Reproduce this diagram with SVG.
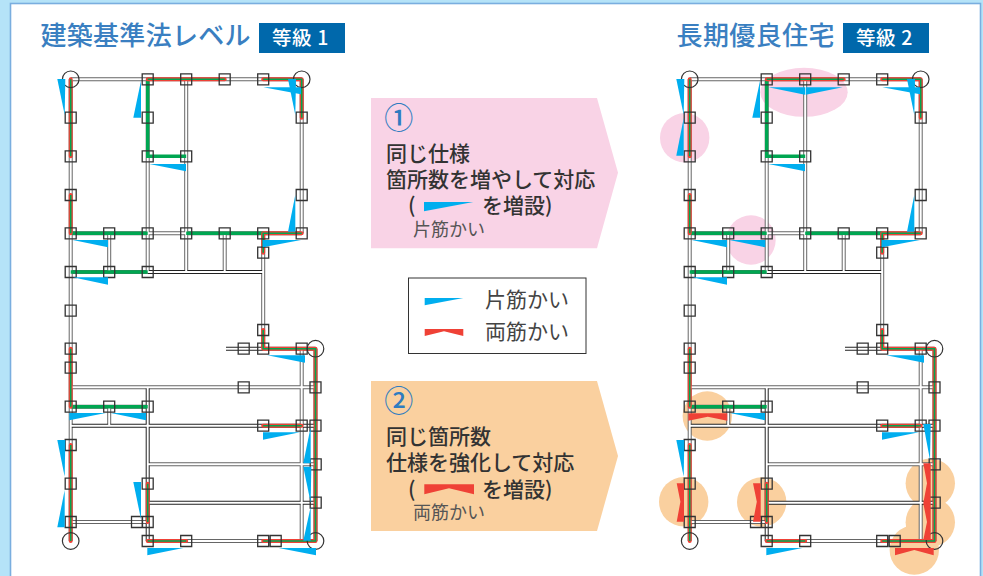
<svg xmlns="http://www.w3.org/2000/svg" width="983" height="576" viewBox="0 0 983 576">
<style>
text{font-family:"Noto Sans CJK JP","Noto Sans",sans-serif}
.head{font-size:26px;font-weight:500;fill:#3a7fc1}
.badge{fill:#0068ab}
.badget{font-size:19.5px;font-weight:500;fill:#fff;letter-spacing:.6px}
.body{font-size:21px;font-weight:500;fill:#333}
.small{font-size:18px;font-weight:400;fill:#555}
.leg{font-size:21px;font-weight:400;fill:#444}
.num{font-size:29px;font-weight:500;fill:#2f7cc0}
.b{fill:#00aeef}
.r{fill:#ef4136}
.pk{fill:#f9d3e6}
.or{fill:#fad09f}
.w1,.w2,.w3,.g,.rl,.rc,.sq,.col{fill:none}
.w1{stroke:#666;stroke-width:4}
.w2{stroke:#222;stroke-width:4}
.w3{stroke:#fff;stroke-width:2}
.g{stroke:#00a651;stroke-width:3.4}
.rl{stroke:#ef4136;stroke-width:4;stroke-linecap:round;stroke-linejoin:round}
.rc{stroke:#00a651;stroke-width:1.6}
.sq{stroke:#333;stroke-width:1.3}
.col{stroke:#333;stroke-width:1.2}
</style>
<defs>
<path id="wm" d="M70.7 79.3H301.7M70.7 233.3H301.7M70.7 272H147.7M263.2 348.7H315.5M70.7 387.3H315.5M148 464.3H315.5M147.7 541H315.5M70.7 522H147.7M70.7 406.7H147.7M70.7 79.3V541M147.7 79.3V272M186.2 79.3V272M109.2 233.3V272M109.2 406.7V425.7M224.7 233.3V272M263.2 233.3V348.7M301.7 79.3V233.3M301.7 348.7V541M315.5 348.7V541"/>
<path id="wd" d="M147.7 272H263.2M226 348.7H263.2M71 425.7H315.5M148 502.7H315.5M147.7 387.3V541"/>
<path id="gp" d="M147.7 79.3V156.3H186.2M70.7 233.3H147.7M186.2 233.3H263.2M70.7 272H147.7M70.7 406.7H147.7"/>
<path id="rp" d="M70.7 79.3V156.3M70.7 195V233.3M147.7 79.3H224.7M263.2 79.3H301.7V117.7M263.2 252.7V233.3H301.7M263.2 330V348.7H315.5V541H263.2M186.2 541H147.7M147.7 483.7V522M263.2 425.7H301.7M70.7 348.7V406.7M70.7 445V541"/>
<g id="sqs"><path class="sq" d="M142.2 73.8h11v11h-11zM180.7 73.8h11v11h-11zM219.2 73.8h11v11h-11zM257.7 73.8h11v11h-11zM65.2 112.2h11v11h-11zM142.2 112.2h11v11h-11zM296.2 112.2h11v11h-11zM65.2 150.8h11v11h-11zM142.2 150.8h11v11h-11zM180.7 150.8h11v11h-11zM65.2 189.5h11v11h-11zM296.2 189.5h11v11h-11zM65.2 227.8h11v11h-11zM103.7 227.8h11v11h-11zM142.2 227.8h11v11h-11zM180.7 227.8h11v11h-11zM219.2 227.8h11v11h-11zM257.7 227.8h11v11h-11zM296.2 227.8h11v11h-11zM257.7 247.2h11v11h-11zM65.2 266.5h11v11h-11zM103.7 266.5h11v11h-11zM142.2 266.5h11v11h-11zM65.2 305.2h11v11h-11zM257.7 324.5h11v11h-11zM65.2 343.2h11v11h-11zM238.2 343.2h11v11h-11zM257.7 343.2h11v11h-11zM296.2 343.2h11v11h-11zM65.2 362.2h11v11h-11zM238.2 381.8h11v11h-11zM310 381.8h11v11h-11zM65.2 401.2h11v11h-11zM103.7 401.2h11v11h-11zM142.2 401.2h11v11h-11zM257.7 420.2h11v11h-11zM296.2 420.2h11v11h-11zM310 420.2h11v11h-11zM65.2 439.5h11v11h-11zM310.2 458.8h11v11h-11zM65.2 478.2h11v11h-11zM142.2 478.2h11v11h-11zM310.2 497.2h11v11h-11zM65.2 516.5h11v11h-11zM131.5 516.5h11v11h-11zM142.2 516.5h11v11h-11zM142.2 535.5h11v11h-11zM180.7 535.5h11v11h-11zM257.7 535.5h11v11h-11zM270.2 535.5h11v11h-11z"/></g>
<g id="plan">
<use href="#wm" class="w1"/><use href="#wd" class="w2"/><use href="#wm" class="w3"/><use href="#wd" class="w3"/>
<use href="#gp" class="g"/><use href="#rp" class="rl"/><use href="#rp" class="rc"/>
<use href="#sqs"/>
<circle class="col" cx="70.7" cy="79.3" r="8.3"/><circle class="col" cx="301.7" cy="79.3" r="8.3"/><circle class="col" cx="315.5" cy="348.7" r="8.3"/><circle class="col" cx="70.7" cy="541" r="8.3"/><circle class="col" cx="315.5" cy="541" r="8.3"/>
</g>
<g id="common">
<polygon class="b" points="57.3,79 65.3,79 64.7,115"/>
<polygon class="b" points="141,80.7 133.3,117.7 141,117.7"/>
<polygon class="b" points="149.3,164 186,164 186,171.3"/>
<polygon class="b" points="263.3,87.3 301,87.3 301,94.3"/>
<polygon class="b" points="288,79 296,79 295.3,115"/>
<polygon class="b" points="295.3,195 288,231.7 295.3,231.7"/>
<polygon class="b" points="72.7,240 108,240 108,247.3"/>
<polygon class="b" points="262.7,240 301,240 262.7,247.3"/>
<polygon class="b" points="72.7,277.3 108,277.3 108,284.7"/>
<polygon class="b" points="267.3,355.3 305,355.3 305,362.7"/>
<polygon class="b" points="110.7,413 146,413 146,420.3"/>
<polygon class="b" points="263,432.3 300,432.3 263,439.7"/>
<polygon class="b" points="57.3,440 65.3,440 64.7,476.7"/>
<polygon class="b" points="147.3,548 183.3,548 147.3,555.3"/>
</g>
</defs>
<rect width="983" height="576" fill="#b5e3f8"/>
<rect x="10.5" y="3.5" width="970" height="590" fill="#fff" stroke="#7aaedf" stroke-width="1.6"/>

<g id="title-left">
<text class="head" x="40.5" y="45" textLength="210">建築基準法レベル</text>
<rect class="badge" x="259" y="23" width="86" height="30"/>
<text class="badget" x="272" y="45">等級 1</text>
</g>
<g id="title-right">
<text class="head" x="676.5" y="45" textLength="158">長期優良住宅</text>
<rect class="badge" x="843" y="23" width="86" height="30"/>
<text class="badget" x="856" y="45">等級 2</text>
</g>

<g id="plan-left">
<use href="#plan"/>
<use href="#common"/>
<polygon class="b" points="64.7,490 64.7,527.3 57.3,527.3"/>
<polygon class="b" points="69.3,413 105.7,413 69.3,420.3"/>
<polygon class="b" points="310.7,426.7 310.7,463.3 303.3,463.3"/>
<polygon class="b" points="303.3,466.7 311.3,466.7 310.7,503"/>
<polygon class="b" points="310.7,506.7 310.7,540.7 303.3,540.7"/>
<polygon class="b" points="133.3,482 141,482 141,519.3"/>
<polygon class="b" points="278.7,548 316,548 316,555.3"/>
</g>

<g id="plan-right" transform="translate(619 0)">
<circle class="pk" cx="65.7" cy="137.7" r="24.7"/>
<ellipse class="pk" cx="185" cy="92.3" rx="43.7" ry="24.5"/>
<circle class="pk" cx="132" cy="240" r="24.7"/>
<circle class="or" cx="88.3" cy="416" r="24.7"/>
<circle class="or" cx="64.7" cy="501.7" r="24.7"/>
<circle class="or" cx="142.7" cy="502" r="24.7"/>
<circle class="or" cx="311.3" cy="483.3" r="24.7"/>
<circle class="or" cx="311.3" cy="522.3" r="24.7"/>
<circle class="or" cx="295.3" cy="550" r="24.7"/>
<use href="#plan"/>
<use href="#common"/>
<polygon class="b" points="64.7,118 64.7,155.7 57.3,155.7"/>
<polygon class="b" points="149.3,87.3 186,87.3 186,94.7"/>
<polygon class="b" points="186.7,94.7 186.7,87.3 223.7,87.3"/>
<polygon class="b" points="110.3,240 146.3,240 146.3,247.3"/>
<polygon class="b" points="304.3,424 311.7,424 311,460"/>
<polygon class="r" points="69.3,413.3 108.3,413.3 108.3,420.7 88.8,416.7 69.3,420.7"/>
<polygon class="r" points="57.7,483.3 65,483.3 65,521.7 57.7,521.7 61.4,501.7"/>
<polygon class="r" points="134,483.3 141.7,483.3 141.7,521.7 134,521.7 137.8,501.7"/>
<polygon class="r" points="304.3,463.3 311.7,463.3 311.7,540 304.3,540 308,522 304.3,503.3 308,483.3"/>
<polygon class="r" points="276,548 314.7,548 314.7,555.3 295.3,550 276,555.3"/>
</g>

<g id="callout-1">
<polygon class="pk" points="371,98 597,98 618,172.7 597,248.3 371,248.3"/>
<text class="num" x="398.7" y="129" text-anchor="middle">①</text>
<text class="body" x="386" y="161">同じ仕様</text>
<text class="body" x="386" y="187">箇所数を増やして対応</text>
<text class="body" x="408" y="213">(</text>
<polygon class="b" points="424,202 473.3,202 424,211.3"/>
<text class="body" x="482" y="213">を増設)</text>
<text class="small" x="413" y="236">片筋かい</text>
</g>

<g id="legend">
<rect x="408.5" y="278" width="177.5" height="75.5" fill="#fff" stroke="#333" stroke-width="1"/>
<polygon class="b" points="424.7,298 463.3,298 424.7,305.3"/>
<text class="leg" x="485" y="306.5">片筋かい</text>
<polygon class="r" points="424.7,329 463.3,329 463.3,336 444,331.3 424.7,336"/>
<text class="leg" x="485" y="339">両筋かい</text>
</g>

<g id="callout-2">
<polygon class="or" points="371,381 597,381 618,456 597,531 371,531"/>
<text class="num" x="398.7" y="412" text-anchor="middle">②</text>
<text class="body" x="386" y="444">同じ箇所数</text>
<text class="body" x="386" y="470">仕様を強化して対応</text>
<text class="body" x="408" y="497">(</text>
<polygon class="r" points="424.3,484.3 474,484.3 474,494.3 449,488.3 424.3,494.3"/>
<text class="body" x="482" y="497">を増設)</text>
<text class="small" x="413" y="519">両筋かい</text>
</g>
</svg>
